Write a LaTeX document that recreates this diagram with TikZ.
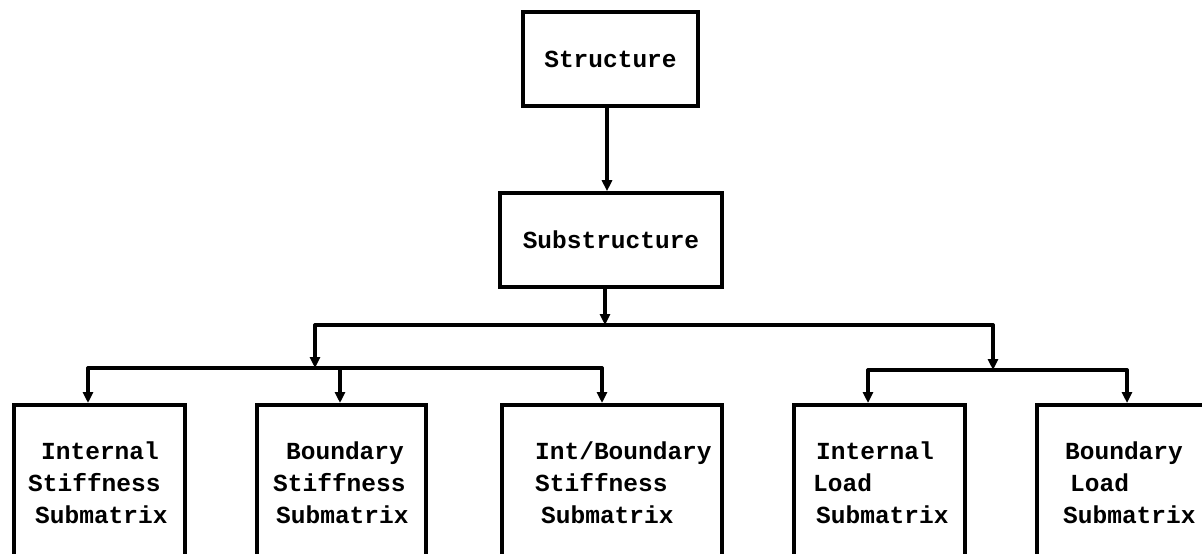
\documentclass[tikz,border=0pt]{standalone}
\usepackage{fontspec}
\setmainfont{Liberation Mono}
\usetikzlibrary{arrows.meta}

\begin{document}
\begin{tikzpicture}[x=1pt,y=-1pt,
  wire/.style={line width=3.4pt, line cap=round, line join=round},
  arr/.style={wire, -{Triangle[length=11pt,width=10pt]}},
  topbox/.style={draw, line width=3.6pt, inner sep=0pt, font=\fontsize{24.5}{30}\selectfont\bfseries},
  leafbox/.style={draw, line width=3.6pt, anchor=north west, inner sep=0pt},
  leaftext/.style={anchor=base west, inner sep=0pt, font=\fontsize{24.5}{30}\selectfont\bfseries}
]
\useasboundingbox (0,0) rectangle (1202,554);
\clip (0,0) rectangle (1202,554);

% upper two levels
\node[topbox, minimum width=175pt, minimum height=94pt] (st) at (610.5,59) {Structure};
\node[topbox, minimum width=222pt, minimum height=94pt] (sub) at (611,240) {Substructure};

% leaf boxes (open towards the bottom edge)
\node[leafbox, minimum width=171pt, minimum height=200pt] (b1) at (12,403) {};
\node[leafbox, minimum width=169pt, minimum height=200pt] (b2) at (255,403) {};
\node[leafbox, minimum width=220pt, minimum height=200pt] (b3) at (500,403) {};
\node[leafbox, minimum width=171pt, minimum height=200pt] (b4) at (792,403) {};
\node[leafbox, minimum width=300pt, minimum height=200pt] (b5) at (1035,403) {};

% leaf labels
\node[leaftext] (b1a) at (41,459) {Internal};
\node[leaftext] (b1b) at (28,491) {Stiffness};
\node[leaftext] (b1c) at (35,523) {Submatrix};

\node[leaftext] (b2a) at (286,459) {Boundary};
\node[leaftext] (b2b) at (273,491) {Stiffness};
\node[leaftext] (b2c) at (276,523) {Submatrix};

\node[leaftext] (b3a) at (535,459) {Int/Boundary};
\node[leaftext] (b3b) at (535,491) {Stiffness};
\node[leaftext] (b3c) at (541,523) {Submatrix};

\node[leaftext] (b4a) at (816,459) {Internal};
\node[leaftext] (b4b) at (813,491) {Load};
\node[leaftext] (b4c) at (816,523) {Submatrix};

\node[leaftext] (b5a) at (1065,459) {Boundary};
\node[leaftext] (b5b) at (1070,491) {Load};
\node[leaftext] (b5c) at (1063,523) {Submatrix};

% junction points of the distribution bars
\coordinate (j0) at (605,325);
\coordinate (jL) at (315,325);
\coordinate (jR) at (993,325);
\coordinate (kL) at (315,368);
\coordinate (kR) at (993,370);
\coordinate (t1) at (88,368);
\coordinate (t2) at (340,368);
\coordinate (t3) at (602,368);
\coordinate (t4) at (868,370);
\coordinate (t5) at (1127,370);

% connectors
\draw[arr] (st.south -| 607,0) -- (sub.north -| 607,0);
\draw[arr] (j0 |- sub.south) -- (j0);
\draw[wire] (jL) -- (jR);
\draw[arr] (jL) -- (kL);
\draw[arr] (jR) -- (kR);
\draw[wire] (t1) -- (t3);
\draw[wire] (t4) -- (t5);
\draw[arr] (t1) -- (t1 |- b1.north);
\draw[arr] (t2) -- (t2 |- b2.north);
\draw[arr] (t3) -- (t3 |- b3.north);
\draw[arr] (t4) -- (t4 |- b4.north);
\draw[arr] (t5) -- (t5 |- b5.north);
\end{tikzpicture}
\end{document}
